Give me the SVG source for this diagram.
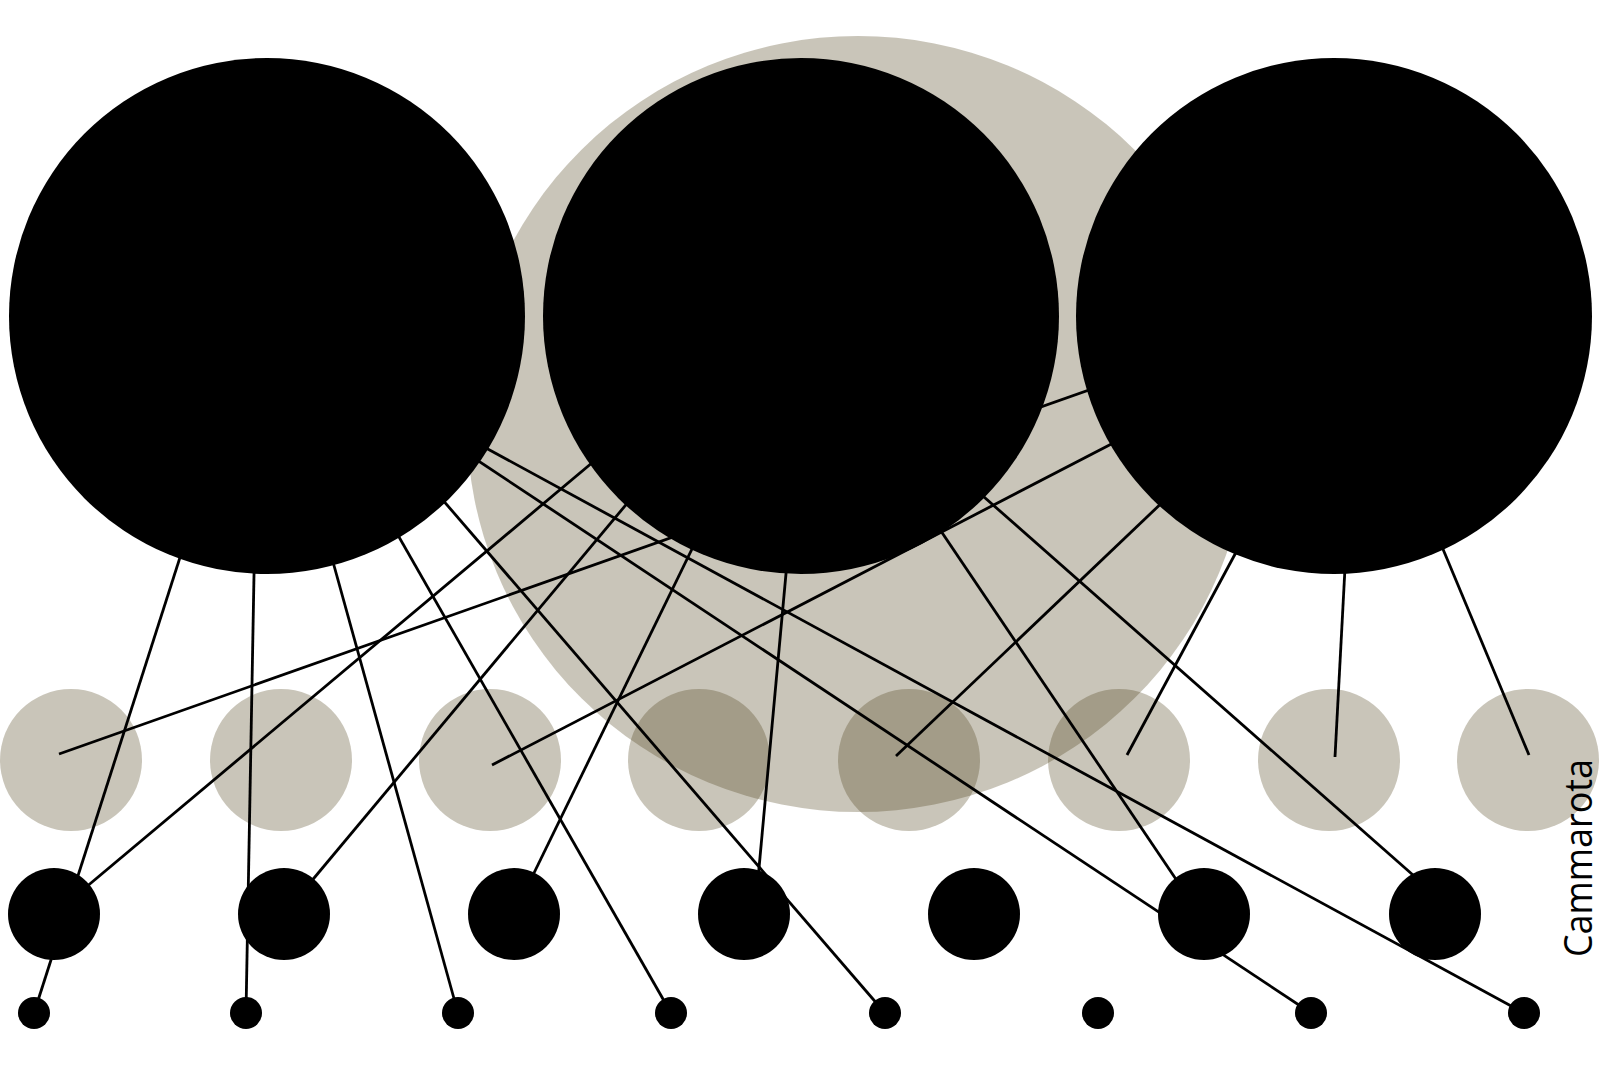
<svg xmlns="http://www.w3.org/2000/svg" width="1600" height="1067" viewBox="0 0 1600 1067">
<style>
.tint{fill:#4b3e16;fill-opacity:0.3}
.big{fill:#000}
.mid{fill:#000}
.dot{fill:#000}
.ln{stroke:#000;stroke-width:2.8;fill:none;stroke-linecap:butt}
.lbl{font-family:"Open Sans","Liberation Sans",sans-serif;font-size:39px;fill:#000}
</style>
<rect width="1600" height="1067" fill="#fff"/>
<g id="backdrop">
<ellipse class="tint" cx="858" cy="424" rx="391" ry="388"/>
</g>
<g id="beige-row">
<circle id="b1" class="tint" cx="71" cy="760" r="71"/>
<circle id="b2" class="tint" cx="281" cy="760" r="71"/>
<circle id="b3" class="tint" cx="490" cy="760" r="71"/>
<circle id="b4" class="tint" cx="699" cy="760" r="71"/>
<circle id="b5" class="tint" cx="909" cy="760" r="71"/>
<circle id="b6" class="tint" cx="1119" cy="760" r="71"/>
<circle id="b7" class="tint" cx="1329" cy="760" r="71"/>
<circle id="b8" class="tint" cx="1528" cy="760" r="71"/>
</g>
<g id="connectors">
<line class="ln" x1="200" y1="495" x2="34" y2="1013"/>
<line class="ln" x1="255" y1="520" x2="246" y2="1013"/>
<line class="ln" x1="320" y1="515" x2="458" y2="1013"/>
<line class="ln" x1="375" y1="495" x2="671" y2="1013"/>
<line class="ln" x1="410" y1="462" x2="885" y2="1013"/>
<line class="ln" x1="440" y1="435.5" x2="1311" y2="1013"/>
<line class="ln" x1="440" y1="423" x2="1524" y2="1013"/>
<line class="ln" x1="1140" y1="372" x2="59" y2="754"/>
<line class="ln" x1="1150" y1="424" x2="492" y2="765"/>
<line class="ln" x1="1190" y1="476" x2="896" y2="756"/>
<line class="ln" x1="1255" y1="517" x2="1127" y2="755"/>
<line class="ln" x1="1347" y1="530" x2="1335" y2="757"/>
<line class="ln" x1="1430" y1="518" x2="1529" y2="755"/>
<line class="ln" x1="630" y1="431" x2="54" y2="914"/>
<line class="ln" x1="655" y1="470" x2="284" y2="914"/>
<line class="ln" x1="712" y1="508" x2="514" y2="914"/>
<line class="ln" x1="790" y1="530" x2="757" y2="890"/>
<line class="ln" x1="920" y1="500" x2="1190" y2="900"/>
<line class="ln" x1="950" y1="467" x2="1430" y2="890"/>
</g>
<g id="hubs">
<circle id="hub1" class="big" cx="267" cy="316" r="258"/>
<circle id="hub2" class="big" cx="801" cy="316" r="258"/>
<circle id="hub3" class="big" cx="1334" cy="316" r="258"/>
</g>
<g id="mid-row">
<circle id="m1" class="mid" cx="54" cy="914" r="46"/>
<circle id="m2" class="mid" cx="284" cy="914" r="46"/>
<circle id="m3" class="mid" cx="514" cy="914" r="46"/>
<circle id="m4" class="mid" cx="744" cy="914" r="46"/>
<circle id="m5" class="mid" cx="974" cy="914" r="46"/>
<circle id="m6" class="mid" cx="1204" cy="914" r="46"/>
<circle id="m7" class="mid" cx="1435" cy="914" r="46"/>
</g>
<g id="dot-row">
<circle id="d1" class="dot" cx="34" cy="1013" r="16"/>
<circle id="d2" class="dot" cx="246" cy="1013" r="16"/>
<circle id="d3" class="dot" cx="458" cy="1013" r="16"/>
<circle id="d4" class="dot" cx="671" cy="1013" r="16"/>
<circle id="d5" class="dot" cx="885" cy="1013" r="16"/>
<circle id="d6" class="dot" cx="1098" cy="1013" r="16"/>
<circle id="d7" class="dot" cx="1311" cy="1013" r="16"/>
<circle id="d8" class="dot" cx="1524" cy="1013" r="16"/>
</g>
<g id="credit">
<text class="lbl" transform="translate(1592,957) rotate(-90)" textLength="198" lengthAdjust="spacingAndGlyphs">Cammarota</text>
</g>
</svg>
